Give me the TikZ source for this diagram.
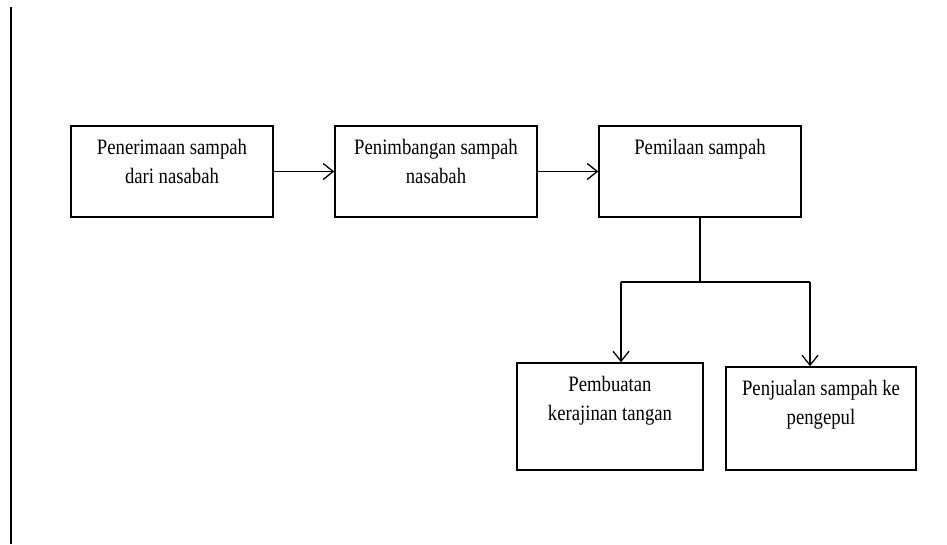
\documentclass[tikz,border=0pt]{standalone}
\usepackage{fontspec}
\newfontfamily\boxfont[FakeStretch=0.85]{Liberation Serif}
\usetikzlibrary{arrows.meta}

\tikzset{
  stage/.style={draw, line width=1.5pt, rectangle, inner sep=0pt},
  caption/.style={anchor=north, inner sep=0pt, yshift=-14pt, align=center,
    font=\boxfont\fontsize{22}{29}\selectfont},
  flow/.style={line width=1.5pt, -{Straight Barb[length=10pt, width=16pt, line width=1.3pt]}},
  link/.style={line width=1.5pt}
}

\begin{document}
\begin{tikzpicture}[x=1pt, y=-1pt]
  \useasboundingbox (0,0) rectangle (947,544);

  % page margin rule
  \coordinate (rt) at (11,7);
  \coordinate (rb) at (11,544);
  \draw[line width=1.8pt] (rt) -- (rb);

  % upper row
  \node[stage, minimum width=202pt, minimum height=91pt,
        label={[caption]north:Penerimaan sampah\\dari nasabah}] (b1) at (172,171.5) {};
  \node[stage, minimum width=202pt, minimum height=91pt,
        label={[caption]north:Penimbangan sampah\\nasabah}] (b2) at (436,171.5) {};
  \node[stage, minimum width=202pt, minimum height=91pt,
        label={[caption]north:Pemilaan sampah}] (b3) at (700,171.5) {};

  % lower row
  \node[stage, minimum width=186pt, minimum height=107pt,
        label={[caption]north:Pembuatan\\kerajinan tangan}] (b4) at (610,416.5) {};
  \node[stage, minimum width=190pt, minimum height=103pt,
        label={[caption]north:Penjualan sampah ke\\pengepul}] (b5) at (821,418.5) {};

  % horizontal flow
  \draw[flow] (b1.east) -- (b2.west);
  \draw[flow] (b2.east) -- (b3.west);

  % branching
  \coordinate (jn) at (b3.south |- 0,282);
  \coordinate (cl) at (621,282);
  \coordinate (cr) at (810,282);
  \draw[link] (b3.south) -- (jn);
  \draw[link] (cl) -- (cr);
  \draw[flow] (cl) -- (cl |- b4.north);
  \draw[flow] (cr) -- (cr |- b5.north);
\end{tikzpicture}
\end{document}
